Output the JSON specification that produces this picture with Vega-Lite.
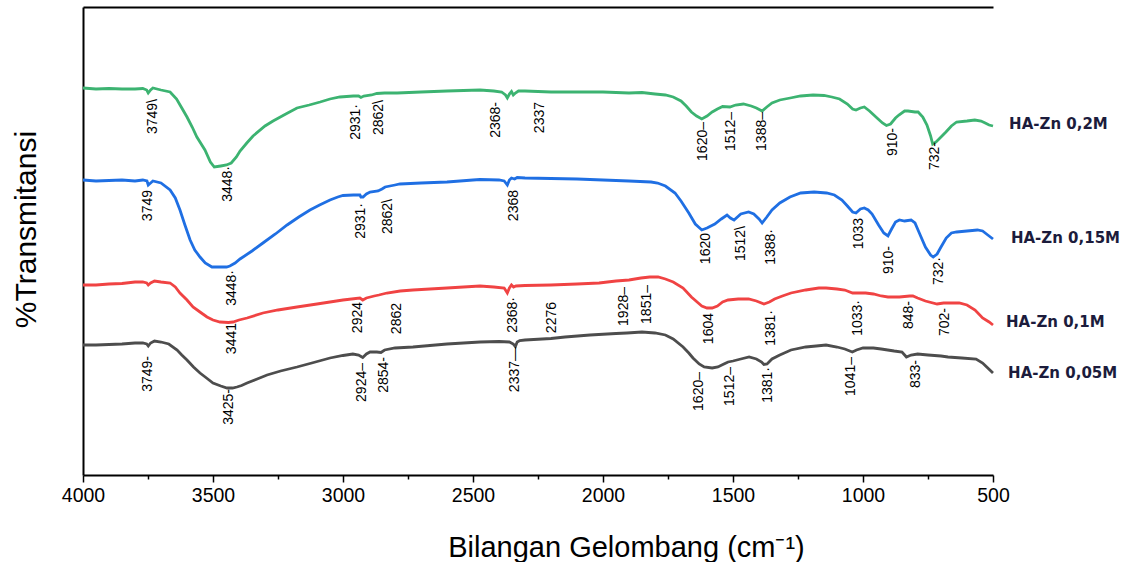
{
  "$schema": "https://vega.github.io/schema/vega-lite/v6.json",
  "width": 910,
  "height": 468,
  "autosize": "none",
  "padding": {"left": 83, "top": 7, "right": 132, "bottom": 87},
  "background": "white",
  "config": {
    "view": {"stroke": null},
    "font": "Liberation Sans",
    "axis": {"domainColor": "black", "domainWidth": 2, "tickColor": "black", "labelColor": "black", "titleColor": "black", "grid": false, "titleFontWeight": "normal", "titleFont": "Liberation Sans", "labelFont": "Liberation Sans"}
  },
  "datasets": {
    "spectra": [
      {"s":"HA-Zn 0,2M","wn":4000,"py":88},{"s":"HA-Zn 0,2M","wn":3950,"py":89},{"s":"HA-Zn 0,2M","wn":3900,"py":88.5},{"s":"HA-Zn 0,2M","wn":3850,"py":89},{"s":"HA-Zn 0,2M","wn":3800,"py":89},{"s":"HA-Zn 0,2M","wn":3770,"py":88.5},{"s":"HA-Zn 0,2M","wn":3755,"py":90},{"s":"HA-Zn 0,2M","wn":3749,"py":93},{"s":"HA-Zn 0,2M","wn":3740,"py":90},{"s":"HA-Zn 0,2M","wn":3731,"py":88},{"s":"HA-Zn 0,2M","wn":3700,"py":90},{"s":"HA-Zn 0,2M","wn":3665,"py":92},{"s":"HA-Zn 0,2M","wn":3640,"py":99},{"s":"HA-Zn 0,2M","wn":3620,"py":108},{"s":"HA-Zn 0,2M","wn":3600,"py":117},{"s":"HA-Zn 0,2M","wn":3580,"py":127},{"s":"HA-Zn 0,2M","wn":3562,"py":137},{"s":"HA-Zn 0,2M","wn":3531,"py":150},{"s":"HA-Zn 0,2M","wn":3510,"py":162},{"s":"HA-Zn 0,2M","wn":3495,"py":167},{"s":"HA-Zn 0,2M","wn":3470,"py":166},{"s":"HA-Zn 0,2M","wn":3448,"py":165},{"s":"HA-Zn 0,2M","wn":3430,"py":163},{"s":"HA-Zn 0,2M","wn":3410,"py":157},{"s":"HA-Zn 0,2M","wn":3396,"py":151},{"s":"HA-Zn 0,2M","wn":3370,"py":143},{"s":"HA-Zn 0,2M","wn":3346,"py":136},{"s":"HA-Zn 0,2M","wn":3300,"py":126},{"s":"HA-Zn 0,2M","wn":3269,"py":121},{"s":"HA-Zn 0,2M","wn":3220,"py":114},{"s":"HA-Zn 0,2M","wn":3177,"py":108},{"s":"HA-Zn 0,2M","wn":3130,"py":105},{"s":"HA-Zn 0,2M","wn":3088,"py":102},{"s":"HA-Zn 0,2M","wn":3050,"py":99},{"s":"HA-Zn 0,2M","wn":3012,"py":97},{"s":"HA-Zn 0,2M","wn":2960,"py":96},{"s":"HA-Zn 0,2M","wn":2940,"py":96},{"s":"HA-Zn 0,2M","wn":2931,"py":97.5},{"s":"HA-Zn 0,2M","wn":2920,"py":96},{"s":"HA-Zn 0,2M","wn":2890,"py":95},{"s":"HA-Zn 0,2M","wn":2870,"py":93.5},{"s":"HA-Zn 0,2M","wn":2840,"py":93},{"s":"HA-Zn 0,2M","wn":2792,"py":93},{"s":"HA-Zn 0,2M","wn":2700,"py":92},{"s":"HA-Zn 0,2M","wn":2600,"py":91},{"s":"HA-Zn 0,2M","wn":2473,"py":90},{"s":"HA-Zn 0,2M","wn":2420,"py":91},{"s":"HA-Zn 0,2M","wn":2390,"py":92},{"s":"HA-Zn 0,2M","wn":2375,"py":95},{"s":"HA-Zn 0,2M","wn":2368,"py":98},{"s":"HA-Zn 0,2M","wn":2360,"py":94},{"s":"HA-Zn 0,2M","wn":2352,"py":91.5},{"s":"HA-Zn 0,2M","wn":2345,"py":95},{"s":"HA-Zn 0,2M","wn":2337,"py":93},{"s":"HA-Zn 0,2M","wn":2325,"py":91},{"s":"HA-Zn 0,2M","wn":2300,"py":91},{"s":"HA-Zn 0,2M","wn":2200,"py":92},{"s":"HA-Zn 0,2M","wn":2100,"py":92},{"s":"HA-Zn 0,2M","wn":2000,"py":92},{"s":"HA-Zn 0,2M","wn":1900,"py":93},{"s":"HA-Zn 0,2M","wn":1850,"py":92.5},{"s":"HA-Zn 0,2M","wn":1800,"py":94},{"s":"HA-Zn 0,2M","wn":1760,"py":95},{"s":"HA-Zn 0,2M","wn":1730,"py":97},{"s":"HA-Zn 0,2M","wn":1700,"py":101},{"s":"HA-Zn 0,2M","wn":1680,"py":106},{"s":"HA-Zn 0,2M","wn":1660,"py":112},{"s":"HA-Zn 0,2M","wn":1640,"py":116},{"s":"HA-Zn 0,2M","wn":1620,"py":119},{"s":"HA-Zn 0,2M","wn":1600,"py":116},{"s":"HA-Zn 0,2M","wn":1580,"py":112},{"s":"HA-Zn 0,2M","wn":1560,"py":109},{"s":"HA-Zn 0,2M","wn":1540,"py":106.5},{"s":"HA-Zn 0,2M","wn":1512,"py":107},{"s":"HA-Zn 0,2M","wn":1490,"py":105},{"s":"HA-Zn 0,2M","wn":1460,"py":104},{"s":"HA-Zn 0,2M","wn":1430,"py":106},{"s":"HA-Zn 0,2M","wn":1410,"py":108},{"s":"HA-Zn 0,2M","wn":1388,"py":111},{"s":"HA-Zn 0,2M","wn":1370,"py":107},{"s":"HA-Zn 0,2M","wn":1350,"py":103},{"s":"HA-Zn 0,2M","wn":1320,"py":100},{"s":"HA-Zn 0,2M","wn":1280,"py":98},{"s":"HA-Zn 0,2M","wn":1240,"py":96},{"s":"HA-Zn 0,2M","wn":1192,"py":95},{"s":"HA-Zn 0,2M","wn":1150,"py":95.5},{"s":"HA-Zn 0,2M","wn":1120,"py":97},{"s":"HA-Zn 0,2M","wn":1090,"py":99},{"s":"HA-Zn 0,2M","wn":1060,"py":104},{"s":"HA-Zn 0,2M","wn":1040,"py":109},{"s":"HA-Zn 0,2M","wn":1027,"py":110},{"s":"HA-Zn 0,2M","wn":1010,"py":108},{"s":"HA-Zn 0,2M","wn":995,"py":107},{"s":"HA-Zn 0,2M","wn":975,"py":111},{"s":"HA-Zn 0,2M","wn":946,"py":118},{"s":"HA-Zn 0,2M","wn":925,"py":123},{"s":"HA-Zn 0,2M","wn":910,"py":125.5},{"s":"HA-Zn 0,2M","wn":894,"py":124},{"s":"HA-Zn 0,2M","wn":875,"py":118},{"s":"HA-Zn 0,2M","wn":862,"py":115},{"s":"HA-Zn 0,2M","wn":840,"py":111},{"s":"HA-Zn 0,2M","wn":827,"py":111},{"s":"HA-Zn 0,2M","wn":800,"py":112},{"s":"HA-Zn 0,2M","wn":788,"py":112},{"s":"HA-Zn 0,2M","wn":770,"py":117},{"s":"HA-Zn 0,2M","wn":754,"py":125},{"s":"HA-Zn 0,2M","wn":740,"py":136},{"s":"HA-Zn 0,2M","wn":732,"py":144},{"s":"HA-Zn 0,2M","wn":719,"py":142},{"s":"HA-Zn 0,2M","wn":700,"py":137},{"s":"HA-Zn 0,2M","wn":681,"py":132},{"s":"HA-Zn 0,2M","wn":660,"py":126},{"s":"HA-Zn 0,2M","wn":640,"py":122},{"s":"HA-Zn 0,2M","wn":600,"py":121},{"s":"HA-Zn 0,2M","wn":570,"py":120},{"s":"HA-Zn 0,2M","wn":546,"py":121},{"s":"HA-Zn 0,2M","wn":530,"py":123},{"s":"HA-Zn 0,2M","wn":515,"py":125},{"s":"HA-Zn 0,2M","wn":500,"py":126},

      {"s":"HA-Zn 0,15M","wn":4000,"py":180},{"s":"HA-Zn 0,15M","wn":3950,"py":181},{"s":"HA-Zn 0,15M","wn":3900,"py":180.5},{"s":"HA-Zn 0,15M","wn":3850,"py":180},{"s":"HA-Zn 0,15M","wn":3800,"py":181},{"s":"HA-Zn 0,15M","wn":3770,"py":180},{"s":"HA-Zn 0,15M","wn":3754,"py":181},{"s":"HA-Zn 0,15M","wn":3749,"py":185},{"s":"HA-Zn 0,15M","wn":3740,"py":183},{"s":"HA-Zn 0,15M","wn":3731,"py":181},{"s":"HA-Zn 0,15M","wn":3700,"py":183},{"s":"HA-Zn 0,15M","wn":3665,"py":190},{"s":"HA-Zn 0,15M","wn":3645,"py":198},{"s":"HA-Zn 0,15M","wn":3627,"py":210},{"s":"HA-Zn 0,15M","wn":3608,"py":225},{"s":"HA-Zn 0,15M","wn":3588,"py":240},{"s":"HA-Zn 0,15M","wn":3570,"py":250},{"s":"HA-Zn 0,15M","wn":3550,"py":257},{"s":"HA-Zn 0,15M","wn":3530,"py":263},{"s":"HA-Zn 0,15M","wn":3504,"py":267},{"s":"HA-Zn 0,15M","wn":3470,"py":267},{"s":"HA-Zn 0,15M","wn":3448,"py":267},{"s":"HA-Zn 0,15M","wn":3435,"py":266},{"s":"HA-Zn 0,15M","wn":3415,"py":263},{"s":"HA-Zn 0,15M","wn":3396,"py":259},{"s":"HA-Zn 0,15M","wn":3350,"py":251},{"s":"HA-Zn 0,15M","wn":3308,"py":243},{"s":"HA-Zn 0,15M","wn":3260,"py":234},{"s":"HA-Zn 0,15M","wn":3215,"py":225},{"s":"HA-Zn 0,15M","wn":3170,"py":217},{"s":"HA-Zn 0,15M","wn":3127,"py":210},{"s":"HA-Zn 0,15M","wn":3090,"py":205},{"s":"HA-Zn 0,15M","wn":3050,"py":200},{"s":"HA-Zn 0,15M","wn":3020,"py":197},{"s":"HA-Zn 0,15M","wn":3000,"py":195.5},{"s":"HA-Zn 0,15M","wn":2960,"py":195},{"s":"HA-Zn 0,15M","wn":2935,"py":195},{"s":"HA-Zn 0,15M","wn":2931,"py":197},{"s":"HA-Zn 0,15M","wn":2923,"py":197},{"s":"HA-Zn 0,15M","wn":2910,"py":194},{"s":"HA-Zn 0,15M","wn":2896,"py":192},{"s":"HA-Zn 0,15M","wn":2865,"py":191},{"s":"HA-Zn 0,15M","wn":2850,"py":189},{"s":"HA-Zn 0,15M","wn":2838,"py":187},{"s":"HA-Zn 0,15M","wn":2800,"py":185},{"s":"HA-Zn 0,15M","wn":2781,"py":184},{"s":"HA-Zn 0,15M","wn":2700,"py":183},{"s":"HA-Zn 0,15M","wn":2600,"py":182},{"s":"HA-Zn 0,15M","wn":2500,"py":180},{"s":"HA-Zn 0,15M","wn":2473,"py":179.5},{"s":"HA-Zn 0,15M","wn":2400,"py":180},{"s":"HA-Zn 0,15M","wn":2380,"py":181},{"s":"HA-Zn 0,15M","wn":2368,"py":185},{"s":"HA-Zn 0,15M","wn":2360,"py":180},{"s":"HA-Zn 0,15M","wn":2352,"py":178},{"s":"HA-Zn 0,15M","wn":2340,"py":179},{"s":"HA-Zn 0,15M","wn":2330,"py":177.5},{"s":"HA-Zn 0,15M","wn":2300,"py":178},{"s":"HA-Zn 0,15M","wn":2200,"py":178.5},{"s":"HA-Zn 0,15M","wn":2100,"py":179},{"s":"HA-Zn 0,15M","wn":2000,"py":180},{"s":"HA-Zn 0,15M","wn":1900,"py":181},{"s":"HA-Zn 0,15M","wn":1815,"py":182},{"s":"HA-Zn 0,15M","wn":1790,"py":183},{"s":"HA-Zn 0,15M","wn":1760,"py":186},{"s":"HA-Zn 0,15M","wn":1723,"py":193},{"s":"HA-Zn 0,15M","wn":1700,"py":201},{"s":"HA-Zn 0,15M","wn":1670,"py":213},{"s":"HA-Zn 0,15M","wn":1645,"py":224},{"s":"HA-Zn 0,15M","wn":1620,"py":230},{"s":"HA-Zn 0,15M","wn":1600,"py":228},{"s":"HA-Zn 0,15M","wn":1570,"py":224},{"s":"HA-Zn 0,15M","wn":1545,"py":219},{"s":"HA-Zn 0,15M","wn":1523,"py":215},{"s":"HA-Zn 0,15M","wn":1510,"py":218},{"s":"HA-Zn 0,15M","wn":1496,"py":220},{"s":"HA-Zn 0,15M","wn":1470,"py":214},{"s":"HA-Zn 0,15M","wn":1440,"py":212},{"s":"HA-Zn 0,15M","wn":1420,"py":214},{"s":"HA-Zn 0,15M","wn":1400,"py":219},{"s":"HA-Zn 0,15M","wn":1388,"py":223},{"s":"HA-Zn 0,15M","wn":1370,"py":217},{"s":"HA-Zn 0,15M","wn":1350,"py":210},{"s":"HA-Zn 0,15M","wn":1320,"py":203},{"s":"HA-Zn 0,15M","wn":1281,"py":197},{"s":"HA-Zn 0,15M","wn":1240,"py":193},{"s":"HA-Zn 0,15M","wn":1188,"py":192},{"s":"HA-Zn 0,15M","wn":1140,"py":193},{"s":"HA-Zn 0,15M","wn":1110,"py":195},{"s":"HA-Zn 0,15M","wn":1081,"py":200},{"s":"HA-Zn 0,15M","wn":1060,"py":206},{"s":"HA-Zn 0,15M","wn":1040,"py":212},{"s":"HA-Zn 0,15M","wn":1027,"py":213},{"s":"HA-Zn 0,15M","wn":1010,"py":209},{"s":"HA-Zn 0,15M","wn":995,"py":208},{"s":"HA-Zn 0,15M","wn":980,"py":210},{"s":"HA-Zn 0,15M","wn":965,"py":214},{"s":"HA-Zn 0,15M","wn":940,"py":225},{"s":"HA-Zn 0,15M","wn":920,"py":233},{"s":"HA-Zn 0,15M","wn":904,"py":236},{"s":"HA-Zn 0,15M","wn":890,"py":229},{"s":"HA-Zn 0,15M","wn":875,"py":222},{"s":"HA-Zn 0,15M","wn":860,"py":220},{"s":"HA-Zn 0,15M","wn":840,"py":221},{"s":"HA-Zn 0,15M","wn":815,"py":220},{"s":"HA-Zn 0,15M","wn":800,"py":223},{"s":"HA-Zn 0,15M","wn":785,"py":232},{"s":"HA-Zn 0,15M","wn":760,"py":247},{"s":"HA-Zn 0,15M","wn":740,"py":255},{"s":"HA-Zn 0,15M","wn":730,"py":257},{"s":"HA-Zn 0,15M","wn":715,"py":254},{"s":"HA-Zn 0,15M","wn":700,"py":247},{"s":"HA-Zn 0,15M","wn":680,"py":238},{"s":"HA-Zn 0,15M","wn":660,"py":233},{"s":"HA-Zn 0,15M","wn":640,"py":232},{"s":"HA-Zn 0,15M","wn":600,"py":231},{"s":"HA-Zn 0,15M","wn":560,"py":230},{"s":"HA-Zn 0,15M","wn":540,"py":231},{"s":"HA-Zn 0,15M","wn":520,"py":235},{"s":"HA-Zn 0,15M","wn":500,"py":239},

      {"s":"HA-Zn 0,1M","wn":4000,"py":285},{"s":"HA-Zn 0,1M","wn":3950,"py":285},{"s":"HA-Zn 0,1M","wn":3900,"py":284},{"s":"HA-Zn 0,1M","wn":3850,"py":283.5},{"s":"HA-Zn 0,1M","wn":3800,"py":282},{"s":"HA-Zn 0,1M","wn":3770,"py":282},{"s":"HA-Zn 0,1M","wn":3755,"py":283},{"s":"HA-Zn 0,1M","wn":3749,"py":285},{"s":"HA-Zn 0,1M","wn":3740,"py":283},{"s":"HA-Zn 0,1M","wn":3725,"py":281},{"s":"HA-Zn 0,1M","wn":3700,"py":282},{"s":"HA-Zn 0,1M","wn":3665,"py":283},{"s":"HA-Zn 0,1M","wn":3645,"py":287},{"s":"HA-Zn 0,1M","wn":3627,"py":293},{"s":"HA-Zn 0,1M","wn":3600,"py":300},{"s":"HA-Zn 0,1M","wn":3577,"py":307},{"s":"HA-Zn 0,1M","wn":3550,"py":312},{"s":"HA-Zn 0,1M","wn":3523,"py":317},{"s":"HA-Zn 0,1M","wn":3500,"py":320},{"s":"HA-Zn 0,1M","wn":3473,"py":322},{"s":"HA-Zn 0,1M","wn":3441,"py":322.5},{"s":"HA-Zn 0,1M","wn":3423,"py":322},{"s":"HA-Zn 0,1M","wn":3400,"py":320},{"s":"HA-Zn 0,1M","wn":3369,"py":318},{"s":"HA-Zn 0,1M","wn":3308,"py":313},{"s":"HA-Zn 0,1M","wn":3250,"py":310},{"s":"HA-Zn 0,1M","wn":3177,"py":307},{"s":"HA-Zn 0,1M","wn":3100,"py":304},{"s":"HA-Zn 0,1M","wn":3050,"py":302},{"s":"HA-Zn 0,1M","wn":3000,"py":300},{"s":"HA-Zn 0,1M","wn":2935,"py":298},{"s":"HA-Zn 0,1M","wn":2924,"py":300},{"s":"HA-Zn 0,1M","wn":2910,"py":298},{"s":"HA-Zn 0,1M","wn":2880,"py":296},{"s":"HA-Zn 0,1M","wn":2862,"py":295},{"s":"HA-Zn 0,1M","wn":2831,"py":293},{"s":"HA-Zn 0,1M","wn":2780,"py":291},{"s":"HA-Zn 0,1M","wn":2731,"py":290},{"s":"HA-Zn 0,1M","wn":2600,"py":288},{"s":"HA-Zn 0,1M","wn":2473,"py":286},{"s":"HA-Zn 0,1M","wn":2420,"py":287},{"s":"HA-Zn 0,1M","wn":2380,"py":288},{"s":"HA-Zn 0,1M","wn":2368,"py":293},{"s":"HA-Zn 0,1M","wn":2360,"py":288},{"s":"HA-Zn 0,1M","wn":2352,"py":285},{"s":"HA-Zn 0,1M","wn":2344,"py":287},{"s":"HA-Zn 0,1M","wn":2335,"py":286},{"s":"HA-Zn 0,1M","wn":2300,"py":285.5},{"s":"HA-Zn 0,1M","wn":2200,"py":285},{"s":"HA-Zn 0,1M","wn":2100,"py":284},{"s":"HA-Zn 0,1M","wn":2015,"py":283},{"s":"HA-Zn 0,1M","wn":1950,"py":281},{"s":"HA-Zn 0,1M","wn":1900,"py":280},{"s":"HA-Zn 0,1M","wn":1854,"py":278},{"s":"HA-Zn 0,1M","wn":1820,"py":277},{"s":"HA-Zn 0,1M","wn":1788,"py":277},{"s":"HA-Zn 0,1M","wn":1760,"py":279},{"s":"HA-Zn 0,1M","wn":1730,"py":282},{"s":"HA-Zn 0,1M","wn":1692,"py":288},{"s":"HA-Zn 0,1M","wn":1660,"py":297},{"s":"HA-Zn 0,1M","wn":1638,"py":302},{"s":"HA-Zn 0,1M","wn":1620,"py":306},{"s":"HA-Zn 0,1M","wn":1600,"py":308},{"s":"HA-Zn 0,1M","wn":1580,"py":308},{"s":"HA-Zn 0,1M","wn":1560,"py":306},{"s":"HA-Zn 0,1M","wn":1540,"py":302},{"s":"HA-Zn 0,1M","wn":1519,"py":300},{"s":"HA-Zn 0,1M","wn":1480,"py":299},{"s":"HA-Zn 0,1M","wn":1440,"py":299},{"s":"HA-Zn 0,1M","wn":1410,"py":301},{"s":"HA-Zn 0,1M","wn":1381,"py":304},{"s":"HA-Zn 0,1M","wn":1360,"py":302},{"s":"HA-Zn 0,1M","wn":1340,"py":299},{"s":"HA-Zn 0,1M","wn":1310,"py":296},{"s":"HA-Zn 0,1M","wn":1277,"py":293},{"s":"HA-Zn 0,1M","wn":1220,"py":290},{"s":"HA-Zn 0,1M","wn":1170,"py":288},{"s":"HA-Zn 0,1M","wn":1142,"py":288},{"s":"HA-Zn 0,1M","wn":1100,"py":289},{"s":"HA-Zn 0,1M","wn":1070,"py":290},{"s":"HA-Zn 0,1M","wn":1040,"py":293},{"s":"HA-Zn 0,1M","wn":1023,"py":293},{"s":"HA-Zn 0,1M","wn":990,"py":293},{"s":"HA-Zn 0,1M","wn":960,"py":294},{"s":"HA-Zn 0,1M","wn":930,"py":296},{"s":"HA-Zn 0,1M","wn":904,"py":297},{"s":"HA-Zn 0,1M","wn":860,"py":297},{"s":"HA-Zn 0,1M","wn":820,"py":296},{"s":"HA-Zn 0,1M","wn":808,"py":296},{"s":"HA-Zn 0,1M","wn":790,"py":298},{"s":"HA-Zn 0,1M","wn":760,"py":301},{"s":"HA-Zn 0,1M","wn":715,"py":304},{"s":"HA-Zn 0,1M","wn":690,"py":303},{"s":"HA-Zn 0,1M","wn":660,"py":303},{"s":"HA-Zn 0,1M","wn":630,"py":303},{"s":"HA-Zn 0,1M","wn":600,"py":305},{"s":"HA-Zn 0,1M","wn":569,"py":310},{"s":"HA-Zn 0,1M","wn":540,"py":318},{"s":"HA-Zn 0,1M","wn":515,"py":322},{"s":"HA-Zn 0,1M","wn":500,"py":325},

      {"s":"HA-Zn 0,05M","wn":4000,"py":345},{"s":"HA-Zn 0,05M","wn":3950,"py":345},{"s":"HA-Zn 0,05M","wn":3900,"py":344.5},{"s":"HA-Zn 0,05M","wn":3850,"py":344},{"s":"HA-Zn 0,05M","wn":3800,"py":343},{"s":"HA-Zn 0,05M","wn":3770,"py":343},{"s":"HA-Zn 0,05M","wn":3755,"py":344},{"s":"HA-Zn 0,05M","wn":3749,"py":346},{"s":"HA-Zn 0,05M","wn":3740,"py":343},{"s":"HA-Zn 0,05M","wn":3725,"py":341},{"s":"HA-Zn 0,05M","wn":3700,"py":342},{"s":"HA-Zn 0,05M","wn":3670,"py":344},{"s":"HA-Zn 0,05M","wn":3638,"py":350},{"s":"HA-Zn 0,05M","wn":3620,"py":355},{"s":"HA-Zn 0,05M","wn":3600,"py":360},{"s":"HA-Zn 0,05M","wn":3575,"py":367},{"s":"HA-Zn 0,05M","wn":3550,"py":373},{"s":"HA-Zn 0,05M","wn":3525,"py":378},{"s":"HA-Zn 0,05M","wn":3500,"py":383},{"s":"HA-Zn 0,05M","wn":3470,"py":386},{"s":"HA-Zn 0,05M","wn":3446,"py":388},{"s":"HA-Zn 0,05M","wn":3425,"py":388},{"s":"HA-Zn 0,05M","wn":3408,"py":387},{"s":"HA-Zn 0,05M","wn":3390,"py":385.5},{"s":"HA-Zn 0,05M","wn":3369,"py":383},{"s":"HA-Zn 0,05M","wn":3330,"py":379},{"s":"HA-Zn 0,05M","wn":3292,"py":375},{"s":"HA-Zn 0,05M","wn":3240,"py":371},{"s":"HA-Zn 0,05M","wn":3177,"py":367},{"s":"HA-Zn 0,05M","wn":3120,"py":363},{"s":"HA-Zn 0,05M","wn":3050,"py":358},{"s":"HA-Zn 0,05M","wn":3000,"py":355.5},{"s":"HA-Zn 0,05M","wn":2962,"py":354},{"s":"HA-Zn 0,05M","wn":2940,"py":355},{"s":"HA-Zn 0,05M","wn":2924,"py":357.5},{"s":"HA-Zn 0,05M","wn":2910,"py":354},{"s":"HA-Zn 0,05M","wn":2896,"py":352},{"s":"HA-Zn 0,05M","wn":2870,"py":352},{"s":"HA-Zn 0,05M","wn":2854,"py":352.5},{"s":"HA-Zn 0,05M","wn":2840,"py":350},{"s":"HA-Zn 0,05M","wn":2800,"py":348},{"s":"HA-Zn 0,05M","wn":2731,"py":347},{"s":"HA-Zn 0,05M","wn":2600,"py":344},{"s":"HA-Zn 0,05M","wn":2473,"py":342},{"s":"HA-Zn 0,05M","wn":2400,"py":341.5},{"s":"HA-Zn 0,05M","wn":2360,"py":342},{"s":"HA-Zn 0,05M","wn":2345,"py":344},{"s":"HA-Zn 0,05M","wn":2337,"py":346.5},{"s":"HA-Zn 0,05M","wn":2330,"py":342},{"s":"HA-Zn 0,05M","wn":2320,"py":340.5},{"s":"HA-Zn 0,05M","wn":2300,"py":340},{"s":"HA-Zn 0,05M","wn":2200,"py":338.5},{"s":"HA-Zn 0,05M","wn":2146,"py":337},{"s":"HA-Zn 0,05M","wn":2050,"py":335},{"s":"HA-Zn 0,05M","wn":1950,"py":333.5},{"s":"HA-Zn 0,05M","wn":1908,"py":333},{"s":"HA-Zn 0,05M","wn":1850,"py":332},{"s":"HA-Zn 0,05M","wn":1800,"py":333},{"s":"HA-Zn 0,05M","wn":1760,"py":335},{"s":"HA-Zn 0,05M","wn":1730,"py":339},{"s":"HA-Zn 0,05M","wn":1692,"py":347},{"s":"HA-Zn 0,05M","wn":1670,"py":353},{"s":"HA-Zn 0,05M","wn":1654,"py":358},{"s":"HA-Zn 0,05M","wn":1630,"py":364},{"s":"HA-Zn 0,05M","wn":1611,"py":367},{"s":"HA-Zn 0,05M","wn":1580,"py":368},{"s":"HA-Zn 0,05M","wn":1558,"py":367},{"s":"HA-Zn 0,05M","wn":1535,"py":364},{"s":"HA-Zn 0,05M","wn":1519,"py":362},{"s":"HA-Zn 0,05M","wn":1500,"py":361},{"s":"HA-Zn 0,05M","wn":1470,"py":359},{"s":"HA-Zn 0,05M","wn":1438,"py":357},{"s":"HA-Zn 0,05M","wn":1410,"py":359},{"s":"HA-Zn 0,05M","wn":1390,"py":362},{"s":"HA-Zn 0,05M","wn":1381,"py":364.5},{"s":"HA-Zn 0,05M","wn":1369,"py":364},{"s":"HA-Zn 0,05M","wn":1350,"py":359},{"s":"HA-Zn 0,05M","wn":1320,"py":355},{"s":"HA-Zn 0,05M","wn":1277,"py":350},{"s":"HA-Zn 0,05M","wn":1220,"py":347},{"s":"HA-Zn 0,05M","wn":1180,"py":346},{"s":"HA-Zn 0,05M","wn":1142,"py":345},{"s":"HA-Zn 0,05M","wn":1100,"py":347},{"s":"HA-Zn 0,05M","wn":1070,"py":349},{"s":"HA-Zn 0,05M","wn":1041,"py":352},{"s":"HA-Zn 0,05M","wn":1025,"py":350},{"s":"HA-Zn 0,05M","wn":1000,"py":348},{"s":"HA-Zn 0,05M","wn":960,"py":348},{"s":"HA-Zn 0,05M","wn":930,"py":349},{"s":"HA-Zn 0,05M","wn":880,"py":351},{"s":"HA-Zn 0,05M","wn":850,"py":352},{"s":"HA-Zn 0,05M","wn":833,"py":357},{"s":"HA-Zn 0,05M","wn":815,"py":355},{"s":"HA-Zn 0,05M","wn":790,"py":354},{"s":"HA-Zn 0,05M","wn":750,"py":355},{"s":"HA-Zn 0,05M","wn":700,"py":356},{"s":"HA-Zn 0,05M","wn":673,"py":357},{"s":"HA-Zn 0,05M","wn":620,"py":358},{"s":"HA-Zn 0,05M","wn":565,"py":359},{"s":"HA-Zn 0,05M","wn":540,"py":363},{"s":"HA-Zn 0,05M","wn":520,"py":368},{"s":"HA-Zn 0,05M","wn":500,"py":373}
    ],
    "peaks": [
      {"label":"3749\\","wn":3731,"py":99},{"label":"3448·","wn":3442,"py":166},{"label":"2931·","wn":2950,"py":104},{"label":"2862\\","wn":2862,"py":100},{"label":"2368-","wn":2412,"py":102},{"label":"2337","wn":2242,"py":102},{"label":"1620–","wn":1615,"py":122},{"label":"1512–","wn":1508,"py":112},{"label":"1388–","wn":1388,"py":112},{"label":"910-","wn":885,"py":128},{"label":"732-","wn":723,"py":142},
      {"label":"3749","wn":3750,"py":190},{"label":"3448·","wn":3427,"py":270},{"label":"2931·","wn":2931,"py":203},{"label":"2862\\","wn":2827,"py":199},{"label":"2368","wn":2342,"py":190},{"label":"1620","wn":1604,"py":233},{"label":"1512\\","wn":1469,"py":226},{"label":"1388·","wn":1354,"py":229},{"label":"1033","wn":1015,"py":218},{"label":"910-","wn":900,"py":246},{"label":"732·","wn":708,"py":257},
      {"label":"3441","wn":3427,"py":323},{"label":"2924","wn":2942,"py":302},{"label":"2862","wn":2792,"py":303},{"label":"2368·","wn":2346,"py":297},{"label":"2276","wn":2196,"py":302},{"label":"1928–","wn":1919,"py":287},{"label":"1851–","wn":1831,"py":285},{"label":"1604","wn":1592,"py":313},{"label":"1381·","wn":1354,"py":310},{"label":"1033·","wn":1019,"py":300},{"label":"848-","wn":823,"py":301},{"label":"702-","wn":685,"py":308},
      {"label":"3749-","wn":3750,"py":356},{"label":"3425-","wn":3438,"py":389},{"label":"2924–","wn":2927,"py":363},{"label":"2854-","wn":2842,"py":357},{"label":"2337—","wn":2338,"py":347},{"label":"1620–","wn":1631,"py":372},{"label":"1512–","wn":1512,"py":367},{"label":"1381·","wn":1365,"py":367},{"label":"1041–","wn":1046,"py":357},{"label":"833-","wn":796,"py":360}
    ],
    "names": [
      {"s":"HA-Zn 0,2M","wn":438,"py":124},
      {"s":"HA-Zn 0,15M","wn":431,"py":238},
      {"s":"HA-Zn 0,1M","wn":450,"py":322},
      {"s":"HA-Zn 0,05M","wn":442,"py":373}
    ]
  },
  "resolve": {"axis": {"x": "independent"}},
  "layer": [
    {
      "data": {"name": "spectra"},
      "transform": [{"calculate": "475 - datum.py", "as": "t"}],
      "mark": {"type": "line", "strokeWidth": 2.8, "clip": false},
      "encoding": {
        "x": {"field": "wn", "type": "quantitative", "sort": null,
          "scale": {"domain": [500, 4000], "reverse": true, "nice": false, "zero": false},
          "axis": {"values": [4000, 3500, 3000, 2500, 2000, 1500, 1000, 500], "format": "d", "tickSize": 7, "tickWidth": 1.5, "labelFontSize": 19.5, "labelPadding": 4, "labelFlush": false, "labelOverlap": false,
            "title": "Bilangan Gelombang (cm⁻¹)", "titleFontSize": 29, "titleX": 543, "titleY": 81, "titleBaseline": "alphabetic", "titleAlign": "center"}},
        "y": {"field": "t", "type": "quantitative",
          "scale": {"domain": [0, 468], "nice": false, "zero": false},
          "axis": {"ticks": false, "labels": false, "title": "%Transmitansi", "titleFontSize": 30, "titleX": -48, "titleY": 222, "titleBaseline": "alphabetic", "titleAlign": "center"}},
        "detail": {"field": "s"},
        "color": {"field": "s", "type": "nominal", "legend": null,
          "scale": {"domain": ["HA-Zn 0,2M", "HA-Zn 0,15M", "HA-Zn 0,1M", "HA-Zn 0,05M"], "range": ["#3cb371", "#1f6fe3", "#f04343", "#4d4d4d"]}},
        "order": {"field": "wn", "sort": "descending"}
      }
    },
    {
      "data": {"name": "peaks"},
      "transform": [{"calculate": "475 - datum.py", "as": "t"}],
      "mark": {"type": "text", "angle": 270, "align": "right", "baseline": "middle", "font": "Liberation Sans Narrow, Liberation Sans", "fontSize": 14, "color": "black"},
      "encoding": {
        "x": {"field": "wn", "type": "quantitative",
          "axis": {"orient": "top", "ticks": false, "labels": false, "title": null, "domainWidth": 2}},
        "y": {"field": "t", "type": "quantitative",
          "axis": {"ticks": false, "labels": false, "title": "%Transmitansi", "titleFontSize": 30, "titleX": -48, "titleY": 222, "titleBaseline": "alphabetic", "titleAlign": "center"}},
        "text": {"field": "label"}
      }
    },
    {
      "data": {"name": "names"},
      "transform": [{"calculate": "475 - datum.py", "as": "t"}],
      "mark": {"type": "text", "align": "left", "baseline": "middle", "font": "DejaVu Sans", "fontWeight": "bold", "fontSize": 15, "color": "#1c1c3c"},
      "encoding": {
        "x": {"field": "wn", "type": "quantitative",
          "axis": {"values": [3750, 3250, 2750, 2250, 1750, 1250, 750], "tickSize": 4, "tickWidth": 1.5, "labels": false, "domain": false, "title": null}},
        "y": {"field": "t", "type": "quantitative",
          "axis": {"ticks": false, "labels": false, "title": "%Transmitansi", "titleFontSize": 30, "titleX": -48, "titleY": 222, "titleBaseline": "alphabetic", "titleAlign": "center"}},
        "text": {"field": "s"}
      }
    }
  ]
}
